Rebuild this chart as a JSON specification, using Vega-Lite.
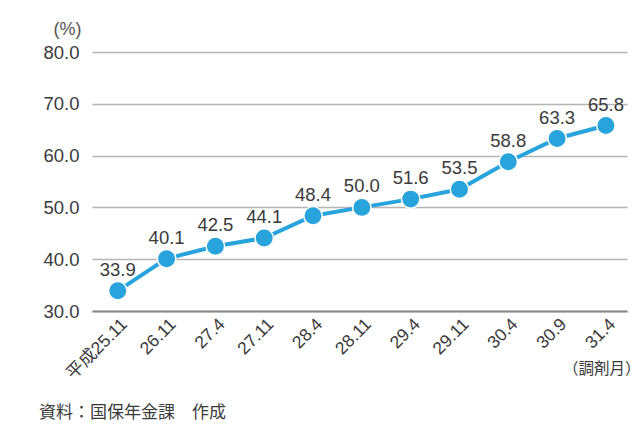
{
  "$schema": "https://vega.github.io/schema/vega-lite/v6.json",
  "width": 535,
  "height": 259,
  "autosize": {"type": "none"},
  "padding": {"left": 92, "top": 52, "right": 13, "bottom": 116},
  "background": "white",
  "title": {
    "text": "資料：国保年金課　作成",
    "orient": "bottom",
    "anchor": "start",
    "frame": "group",
    "dx": -53,
    "offset": 23,
    "font": "Noto Sans CJK JP",
    "fontSize": 17,
    "fontWeight": "normal",
    "color": "#3a3a3a"
  },
  "data": {
    "values": [
      {"month": "平成25.11", "rate": 33.9},
      {"month": "26.11", "rate": 40.1},
      {"month": "27.4", "rate": 42.5},
      {"month": "27.11", "rate": 44.1},
      {"month": "28.4", "rate": 48.4},
      {"month": "28.11", "rate": 50.0},
      {"month": "29.4", "rate": 51.6},
      {"month": "29.11", "rate": 53.5},
      {"month": "30.4", "rate": 58.8},
      {"month": "30.9", "rate": 63.3},
      {"month": "31.4", "rate": 65.8}
    ]
  },
  "encoding": {
    "x": {
      "field": "month",
      "type": "ordinal",
      "sort": null,
      "scale": {"type": "point", "padding": 0.48, "align": 0.55},
      "axis": {
        "title": "（調剤月）",
        "titleFont": "Noto Sans CJK JP",
        "titleFontSize": 15.5,
        "titleFontWeight": "normal",
        "titleColor": "#3a3a3a",
        "titleAnchor": "end",
        "titleAlign": "right",
        "titleBaseline": "middle",
        "titleX": 548,
        "titleY": 57,
        "labelAngle": -45,
        "labelFont": "Liberation Sans, Noto Sans CJK JP",
        "labelFontSize": 17.5,
        "labelColor": "#3a3a3a",
        "labelPadding": 4,
        "labelDx": 24,
        "ticks": false,
        "grid": false,
        "domain": true,
        "domainColor": "#888888",
        "domainWidth": 2
      }
    },
    "y": {
      "field": "rate",
      "type": "quantitative",
      "scale": {"domain": [30, 80], "nice": false, "zero": false},
      "axis": {
        "title": "(%)",
        "titleAngle": 0,
        "titleFont": "Liberation Sans",
        "titleFontSize": 18,
        "titleFontWeight": "normal",
        "titleColor": "#555555",
        "titleAlign": "center",
        "titleBaseline": "middle",
        "titleX": -25,
        "titleY": -23,
        "values": [30, 40, 50, 60, 70, 80],
        "format": ".1f",
        "labelFont": "Liberation Sans",
        "labelFontSize": 18.5,
        "labelColor": "#3a3a3a",
        "labelPadding": 13,
        "ticks": false,
        "domain": false,
        "grid": true,
        "gridColor": "#b5b5b5",
        "gridWidth": 1.5
      }
    }
  },
  "layer": [
    {"mark": {"type": "line", "color": "#29a3dc", "strokeWidth": 4}},
    {"mark": {"type": "point", "filled": true, "size": 340, "color": "#29a3dc", "stroke": "white", "strokeWidth": 1.5, "opacity": 1}},
    {
      "mark": {"type": "text", "dy": -15, "baseline": "alphabetic", "align": "center", "font": "Liberation Sans", "fontSize": 18.5, "color": "#3a3a3a"},
      "encoding": {"text": {"field": "rate", "type": "quantitative", "format": ".1f"}}
    }
  ],
  "config": {"view": {"stroke": null}}
}
